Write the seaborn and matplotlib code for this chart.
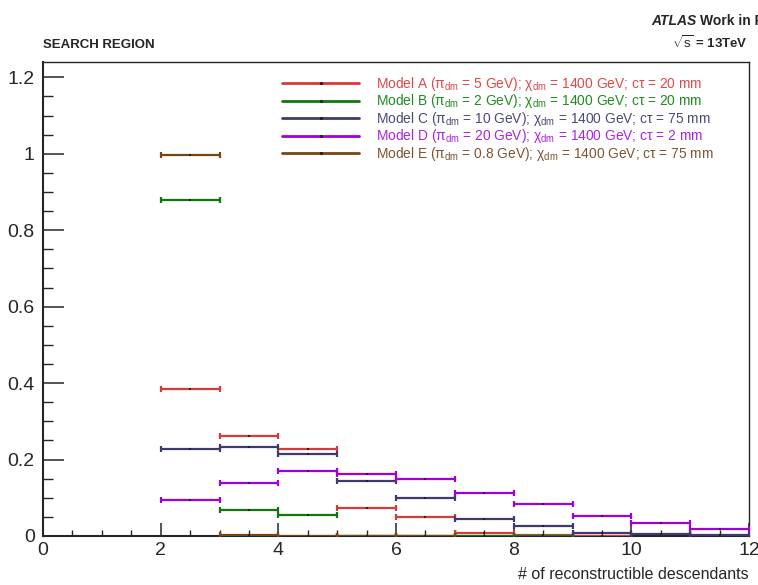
import numpy as np
import pandas as pd
import matplotlib
matplotlib.use("Agg")
import matplotlib.pyplot as plt
from matplotlib.lines import Line2D
from matplotlib.ticker import MultipleLocator
import seaborn as sns

# Normalised distributions of the number of reconstructible descendants.
# Each entry is one unit-wide bin starting at the given lower edge; NaN = empty bin.
bin_low = [2, 3, 4, 5, 6, 7, 8, 9, 10, 11]

model_a = [0.384, 0.261, 0.228, 0.073, 0.050, 0.008, 0.003, 0.001, np.nan, np.nan]
model_b = [0.880, 0.067, 0.054, 0.001, 0.0005, 0.0003, 0.0002, np.nan, np.nan, np.nan]
model_c = [0.228, 0.234, 0.214, 0.144, 0.100, 0.045, 0.027, 0.009, 0.005, 0.003]
model_d = [0.094, 0.139, 0.170, 0.162, 0.149, 0.112, 0.084, 0.052, 0.034, 0.019]
model_e = [0.996, 0.002, 0.0008, 0.0004, 0.0002, np.nan, np.nan, np.nan, np.nan, np.nan]

model_names = ["A", "B", "C", "D", "E"]
legend_labels = [
    r"Model A ($\pi_{\rm dm}$ = 5 GeV); $\chi_{\rm dm}$ = 1400 GeV; c$\tau$ = 20 mm",
    r"Model B ($\pi_{\rm dm}$ = 2 GeV); $\chi_{\rm dm}$ = 1400 GeV; c$\tau$ = 20 mm",
    r"Model C ($\pi_{\rm dm}$ = 10 GeV); $\chi_{\rm dm}$ = 1400 GeV; c$\tau$ = 75 mm",
    r"Model D ($\pi_{\rm dm}$ = 20 GeV); $\chi_{\rm dm}$ = 1400 GeV; c$\tau$ = 2 mm",
    r"Model E ($\pi_{\rm dm}$ = 0.8 GeV); $\chi_{\rm dm}$ = 1400 GeV; c$\tau$ = 75 mm",
]
line_colors = ["#d83a3a", "#0e780e", "#3c3c6c", "#a000dc", "#7a4414"]
text_colors = ["#df4848", "#218a21", "#4a4a78", "#ad22e0", "#7e5430"]

x_ticks = [0, 2, 4, 6, 8, 10, 12]
y_ticks = [0, 0.2, 0.4, 0.6, 0.8, 1.0, 1.2]
y_tick_labels = ["0", "0.2", "0.4", "0.6", "0.8", "1", "1.2"]

# Long-format table
frames = []
for name, vals in zip(model_names, [model_a, model_b, model_c, model_d, model_e]):
    frames.append(pd.DataFrame({"model": name,
                                "center": np.array(bin_low) + 0.5,
                                "value": vals}))
df = pd.concat(frames, ignore_index=True).dropna()

sns.set_style("ticks")
plt.rcParams["font.family"] = ["Liberation Sans", "DejaVu Sans"]
plt.rcParams["mathtext.fontset"] = "custom"
plt.rcParams["mathtext.rm"] = "Liberation Sans"
plt.rcParams["mathtext.it"] = "Liberation Sans"
plt.rcParams["mathtext.bf"] = "Liberation Sans:bold"

fig = plt.figure(figsize=(7.58, 5.85), dpi=100)
W, H = 758, 585
ax = fig.add_axes([43 / W, 1 - 536 / H, (749 - 43) / W, (536 - 62) / H])

palette = dict(zip(model_names, line_colors))
for name in model_names:
    sub = df[df["model"] == name]
    ax.errorbar(sub["center"], sub["value"], xerr=0.5, fmt="none",
                ecolor=palette[name], elinewidth=1.6, capsize=2.4,
                capthick=1.6, zorder=3)

sns.scatterplot(data=df, x="center", y="value", color="#222222", marker="s",
                s=3, linewidth=0, legend=False, ax=ax, zorder=4)

ax.set_xlim(0, 12)
ax.set_ylim(0, 1.24)
ax.set_xticks(x_ticks)
ax.set_xticklabels([str(t) for t in x_ticks])
ax.set_yticks(y_ticks)
ax.set_yticklabels(y_tick_labels)
ax.xaxis.set_minor_locator(MultipleLocator(0.5))
ax.yaxis.set_minor_locator(MultipleLocator(0.05))
ax.tick_params(axis="x", which="major", direction="in", length=9.5, width=1.1,
               labelsize=14, pad=4, top=False)
ax.tick_params(axis="x", which="minor", direction="in", length=4.5, width=1.0, top=False)
ax.tick_params(axis="y", which="major", direction="in", length=15, width=1.1,
               labelsize=14, pad=6, right=False)
ax.tick_params(axis="y", which="minor", direction="in", length=7.5, width=1.0, right=False)
ax.set_xlabel("# of reconstructible descendants", fontsize=11.5, loc="right",
              labelpad=6)
ax.set_ylabel("")
for side in ["left", "bottom"]:
    ax.spines[side].set_linewidth(1.5)
for side in ["top", "right"]:
    ax.spines[side].set_linewidth(1.0)
    ax.spines[side].set_visible(True)

handles = [Line2D([], [], color=c, lw=2, marker="s", markersize=1.2,
                  markerfacecolor="#222222", markeredgecolor="#222222")
           for c in line_colors]
leg = ax.legend(handles, legend_labels, loc="upper left",
                bbox_to_anchor=((282 - 43) / 706, (536 - 75) / 474),
                frameon=False, fontsize=9.9, handlelength=5.6,
                handletextpad=1.25, labelspacing=-0.04, borderpad=0,
                borderaxespad=0, numpoints=1)
for txt, col in zip(leg.get_texts(), text_colors):
    txt.set_color(col)

fig.text(43 / W, 1 - 48 / H, "SEARCH REGION", fontsize=9.5, fontweight="bold",
         ha="left", va="baseline")
fig.text(748 / W, 1 - 48 / H, r"$\sqrt{\rm s}$ = 13TeV", fontsize=9.5,
         fontweight="bold", ha="right", va="baseline")
fig.text(651 / W, 1 - 25 / H, "ATLAS", fontsize=10, fontweight="bold",
         fontstyle="italic", ha="left", va="baseline")
fig.text(700 / W, 1 - 25 / H, "Work in Progress", fontsize=10,
         fontweight="bold", ha="left", va="baseline")

fig.savefig("out.png", dpi=100)
